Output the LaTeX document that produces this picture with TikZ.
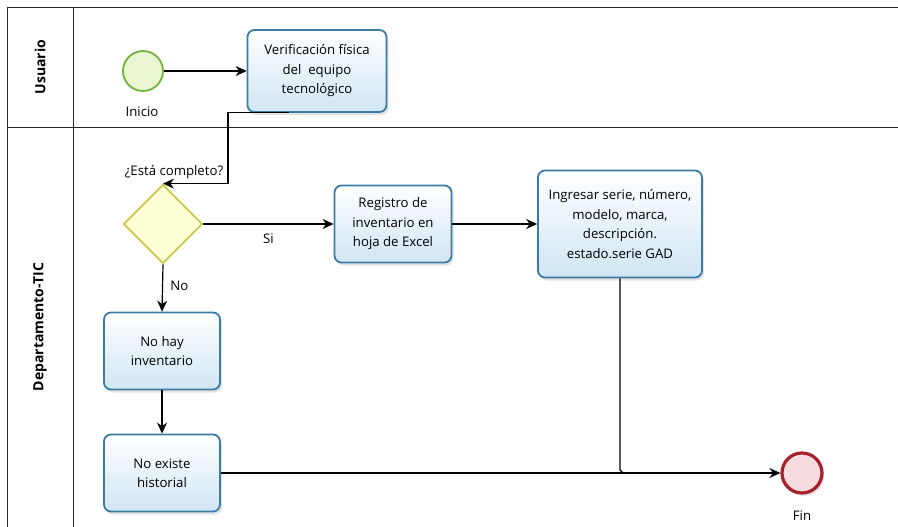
\documentclass[tikz,border=0pt]{standalone}
\usepackage{fontspec}
\setmainfont{Open Sans}
\usetikzlibrary{arrows.meta,shapes.geometric,shadows,calc}
\definecolor{taskline}{HTML}{3A7CA5}
\definecolor{taskfill}{HTML}{D0E5F3}
\definecolor{startline}{HTML}{72B23A}
\definecolor{startfill}{HTML}{EAF6D2}
\definecolor{endline}{HTML}{A8202C}
\definecolor{endfill}{HTML}{F6DCDF}
\definecolor{gwline}{HTML}{C9C94E}
\definecolor{gwfill}{HTML}{FFFFD6}
\begin{document}
\begin{tikzpicture}[x=1pt,y=-1pt,
  txt/.style={font=\fontsize{13.2}{19.5}\selectfont},
  task/.style={rectangle,rounded corners=7pt,draw=taskline,line width=1.8pt,
    top color=white,bottom color=taskfill,align=center,inner sep=0pt,
    font=\fontsize{13.2}{19.5}\selectfont,
    drop shadow={shadow xshift=2pt,shadow yshift=-3pt,opacity=0.22}},
  startev/.style={circle,draw=startline,fill=startfill,line width=1.8pt,minimum size=40pt,inner sep=0pt},
  endev/.style={circle,draw=endline,fill=endfill,line width=3.2pt,minimum size=40pt,inner sep=0pt,
    drop shadow={shadow xshift=2pt,shadow yshift=-3pt,opacity=0.22}},
  gateway/.style={diamond,aspect=1,draw=gwline,fill=gwfill,line width=1.8pt,minimum width=79pt,minimum height=79pt,inner sep=0pt},
  flow/.style={line width=1.2pt,draw=black,-{Stealth[length=11pt,width=10pt]}},
  lane/.style={line width=0.9pt,draw=black!85},
  lanetitle/.style={rotate=90,font=\bfseries\fontsize{14}{14}\selectfont}
]
\useasboundingbox (0,0) rectangle (898,527);
% swimlanes
\draw[lane] (898,7) -- (7,7) -- (7,527);
\draw[lane] (73,7) -- (73,527);
\draw[lane] (7,127) -- (898,127);
\node[lanetitle] (l1) at (40,67) {Usuario};
\node[lanetitle] (l2) at (40,327) {Departamento-TIC};
% nodes
\node[startev] (start) at (143,71) {};
\node[txt] (startlbl) at (142,112) {Inicio};
\node[task,minimum width=139pt,minimum height=82pt] (t1) at (317,71) {Verificación física\\del\ \ equipo\\tecnológico};
\node[gateway] (gw) at (163,224) {};
\node[txt] (gwlbl) at (174,172) {¿Está completo?};
\node[task,minimum width=117pt,minimum height=77pt] (t2) at (393,224) {Registro de\\inventario en\\hoja de Excel};
\node[task,minimum width=164pt,minimum height=107pt] (t3) at (620,224) {Ingresar serie, número,\\modelo, marca,\\descripción.\\estado.serie GAD};
\node[task,minimum width=116pt,minimum height=77pt] (t4) at (162,351) {No hay\\inventario};
\node[task,minimum width=116pt,minimum height=77pt] (t5) at (162,473) {No existe\\historial};
\node[endev] (fin) at (802,473) {};
\node[txt] (finlbl) at (802,516) {Fin};
% flows
\draw[flow] (start.east) -- (t1.west);
\draw[flow] ($(t1.south)+(-28,0)$) -- ($(t1.south)+(-89,0)$) |- (gw.north);
\draw[flow] (gw.east) -- node[txt,below=6pt] (si) {Si} (t2.west);
\draw[flow] (t2) -- (t3);
\draw[flow] (gw.south) -- node[txt,right=4pt,pos=0.45] (no) {No} (t4.north);
\draw[flow] (t4) -- (t5);
\draw[flow] (t5.east) -- (fin.west);
\draw[line width=1.1pt] (t3.south) -- ($(t3.south |- t5.east)+(0,-3)$) -- ($(t3.south |- t5.east)+(3,0)$);
\end{tikzpicture}
\end{document}
